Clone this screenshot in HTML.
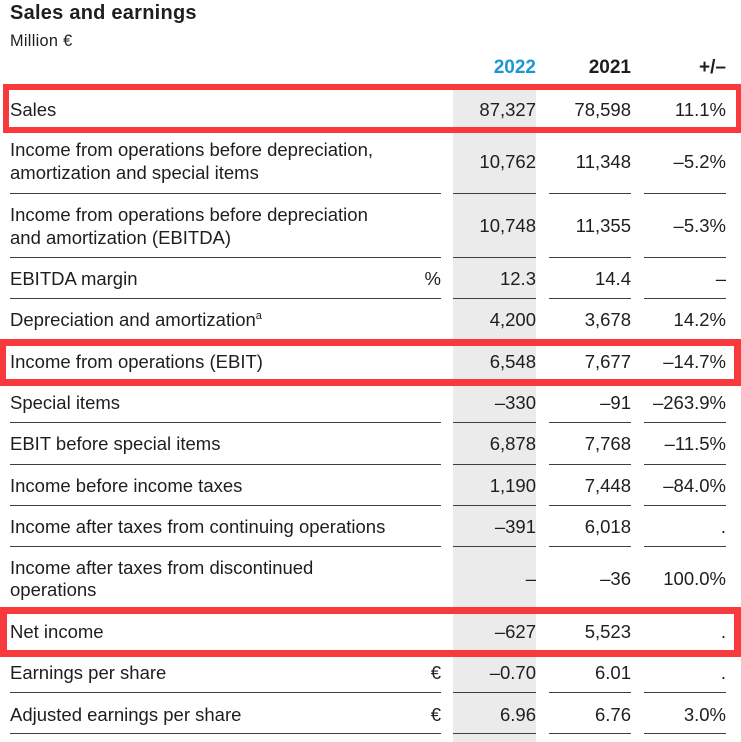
<!DOCTYPE html>
<html>
<head>
<meta charset="utf-8">
<style>
  html,body{margin:0;padding:0;background:#fff;}
  body{width:741px;height:742px;position:relative;overflow:hidden;
       font-family:"Liberation Sans",Arial,sans-serif;color:#1e1e1e;}
  .a{position:absolute;white-space:nowrap;}
  .lbl{position:absolute;left:10px;font-size:18.5px;line-height:22.5px;white-space:nowrap;}
  .num{position:absolute;font-size:18.5px;line-height:22.5px;text-align:right;white-space:nowrap;}
  .c1{right:205px;}
  .c2{right:110px;}
  .c3{right:15px;}
  .cu{right:300px;}
  .ln{position:absolute;height:1px;background:#3e3e3e;}
  .box{position:absolute;box-sizing:border-box;border:6px solid #f93a3c;}
  .hd{position:absolute;top:57px;font-size:19px;font-weight:bold;line-height:22px;text-align:right;}
</style>
</head>
<body>
<div class="a" style="left:10px;top:0px;font-size:20px;font-weight:bold;line-height:26px;letter-spacing:0.25px;">Sales and earnings</div>
<div class="a" style="left:10px;top:31px;font-size:16.3px;line-height:20px;letter-spacing:0.3px;">Million €</div>

<div class="hd c1" style="color:#1a97d5;">2022</div>
<div class="hd c2">2021</div>
<div class="hd c3">+/–</div>

<!-- gray column -->
<div class="a" style="left:453px;top:90px;width:83px;height:652px;background:#ebebeb;"></div>

<!-- lines -->
<div class="ln" style="left:10px;width:431px;top:193px"></div><div class="ln" style="left:453px;width:83px;top:193px"></div><div class="ln" style="left:549px;width:82px;top:193px"></div><div class="ln" style="left:644px;width:82px;top:193px"></div>
<div class="ln" style="left:10px;width:431px;top:257px"></div><div class="ln" style="left:453px;width:83px;top:257px"></div><div class="ln" style="left:549px;width:82px;top:257px"></div><div class="ln" style="left:644px;width:82px;top:257px"></div>
<div class="ln" style="left:10px;width:431px;top:298px"></div><div class="ln" style="left:453px;width:83px;top:298px"></div><div class="ln" style="left:549px;width:82px;top:298px"></div><div class="ln" style="left:644px;width:82px;top:298px"></div>
<div class="ln" style="left:10px;width:431px;top:422px"></div><div class="ln" style="left:453px;width:83px;top:422px"></div><div class="ln" style="left:549px;width:82px;top:422px"></div><div class="ln" style="left:644px;width:82px;top:422px"></div>
<div class="ln" style="left:10px;width:431px;top:464px"></div><div class="ln" style="left:453px;width:83px;top:464px"></div><div class="ln" style="left:549px;width:82px;top:464px"></div><div class="ln" style="left:644px;width:82px;top:464px"></div>
<div class="ln" style="left:10px;width:431px;top:505px"></div><div class="ln" style="left:453px;width:83px;top:505px"></div><div class="ln" style="left:549px;width:82px;top:505px"></div><div class="ln" style="left:644px;width:82px;top:505px"></div>
<div class="ln" style="left:10px;width:431px;top:546px"></div><div class="ln" style="left:453px;width:83px;top:546px"></div><div class="ln" style="left:549px;width:82px;top:546px"></div><div class="ln" style="left:644px;width:82px;top:546px"></div>
<div class="ln" style="left:10px;width:431px;top:650px;background:#888"></div><div class="ln" style="left:453px;width:83px;top:650px;background:#888"></div><div class="ln" style="left:549px;width:82px;top:650px;background:#888"></div><div class="ln" style="left:644px;width:82px;top:650px;background:#888"></div>
<div class="ln" style="left:10px;width:431px;top:692px"></div><div class="ln" style="left:453px;width:83px;top:692px"></div><div class="ln" style="left:549px;width:82px;top:692px"></div><div class="ln" style="left:644px;width:82px;top:692px"></div>
<div class="ln" style="left:10px;width:431px;top:733px"></div><div class="ln" style="left:453px;width:83px;top:733px"></div><div class="ln" style="left:549px;width:82px;top:733px"></div><div class="ln" style="left:644px;width:82px;top:733px"></div>

<!-- rows -->
<div class="lbl" style="top:99px">Sales</div>
<div class="num c1" style="top:99px">87,327</div><div class="num c2" style="top:99px">78,598</div><div class="num c3" style="top:99px">11.1%</div>

<div class="lbl" style="top:139px">Income from operations before depreciation,<br>amortization and special items</div>
<div class="num c1" style="top:150.6px">10,762</div><div class="num c2" style="top:150.6px">11,348</div><div class="num c3" style="top:150.6px">–5.2%</div>

<div class="lbl" style="top:204px">Income from operations before depreciation<br>and amortization (EBITDA)</div>
<div class="num c1" style="top:215px">10,748</div><div class="num c2" style="top:215px">11,355</div><div class="num c3" style="top:215px">–5.3%</div>

<div class="lbl" style="top:268px">EBITDA margin</div>
<div class="num cu" style="top:268px">%</div>
<div class="num c1" style="top:268px">12.3</div><div class="num c2" style="top:268px">14.4</div><div class="num c3" style="top:268px">–</div>

<div class="lbl" style="top:309px">Depreciation and amortization<span style="font-size:11px;position:relative;top:-7px;">a</span></div>
<div class="num c1" style="top:309px">4,200</div><div class="num c2" style="top:309px">3,678</div><div class="num c3" style="top:309px">14.2%</div>

<div class="lbl" style="top:350.6px">Income from operations (EBIT)</div>
<div class="num c1" style="top:350.6px">6,548</div><div class="num c2" style="top:350.6px">7,677</div><div class="num c3" style="top:350.6px">–14.7%</div>

<div class="lbl" style="top:391.6px">Special items</div>
<div class="num c1" style="top:391.6px">–330</div><div class="num c2" style="top:391.6px">–91</div><div class="num c3" style="top:391.6px">–263.9%</div>

<div class="lbl" style="top:433px">EBIT before special items</div>
<div class="num c1" style="top:433px">6,878</div><div class="num c2" style="top:433px">7,768</div><div class="num c3" style="top:433px">–11.5%</div>

<div class="lbl" style="top:474.6px">Income before income taxes</div>
<div class="num c1" style="top:474.6px">1,190</div><div class="num c2" style="top:474.6px">7,448</div><div class="num c3" style="top:474.6px">–84.0%</div>

<div class="lbl" style="top:515.6px">Income after taxes from continuing operations</div>
<div class="num c1" style="top:515.6px">–391</div><div class="num c2" style="top:515.6px">6,018</div><div class="num c3" style="top:515.6px">.</div>

<div class="lbl" style="top:556.6px">Income after taxes from discontinued<br>operations</div>
<div class="num c1" style="top:568.3px">–</div><div class="num c2" style="top:568.3px">–36</div><div class="num c3" style="top:568.3px">100.0%</div>

<div class="lbl" style="top:620.6px">Net income</div>
<div class="num c1" style="top:620.6px">–627</div><div class="num c2" style="top:620.6px">5,523</div><div class="num c3" style="top:620.6px">.</div>

<div class="lbl" style="top:662.3px">Earnings per share</div>
<div class="num cu" style="top:662.3px">€</div>
<div class="num c1" style="top:662.3px">–0.70</div><div class="num c2" style="top:662.3px">6.01</div><div class="num c3" style="top:662.3px">.</div>

<div class="lbl" style="top:704px">Adjusted earnings per share</div>
<div class="num cu" style="top:704px">€</div>
<div class="num c1" style="top:704px">6.96</div><div class="num c2" style="top:704px">6.76</div><div class="num c3" style="top:704px">3.0%</div>

<!-- red highlight boxes -->
<div class="box" style="left:3px;top:84px;width:739px;height:49px;"></div>
<div class="box" style="left:-1px;top:339px;width:742px;height:47px;border-width:7px;"></div>
<div class="box" style="left:0px;top:607px;width:741px;height:50px;border-width:7px;"></div>
</body>
</html>
